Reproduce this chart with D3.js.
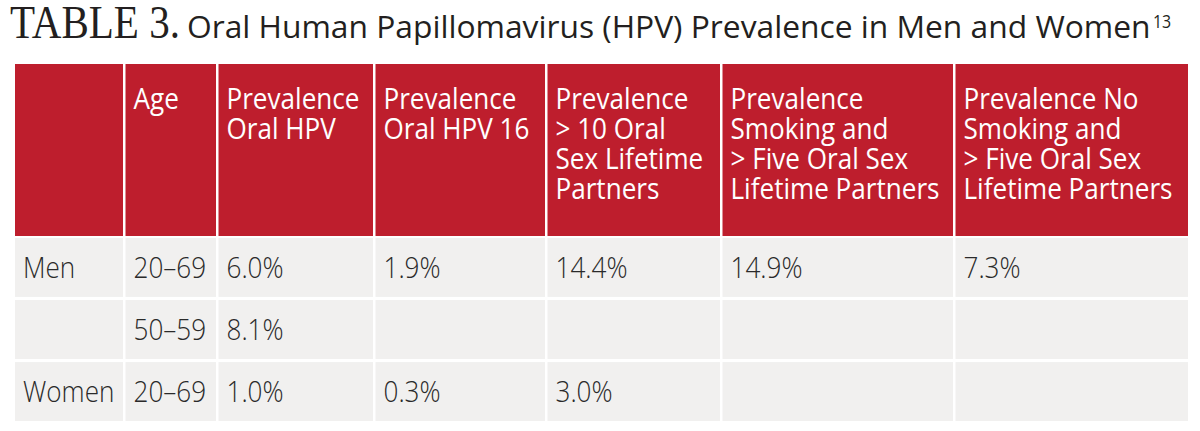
<!DOCTYPE html>
<html>
<head>
<meta charset="utf-8">
<script src="https://cdn.jsdelivr.net/npm/d3@7"></script>
<style>
  body { margin: 0; background: #fff; }
  .chart text { font-family: "Open Sans", "Noto Sans", sans-serif; }
  .chart text.serif { font-family: "Liberation Serif", "DejaVu Serif", serif; }
  .chart .body text { font-weight: 300; }
</style>
</head>
<body>
<svg class="chart"></svg>
<script>
// table content
var headerLines = [
  [],
  ["Age"],
  ["Prevalence", "Oral HPV"],
  ["Prevalence", "Oral HPV 16"],
  ["Prevalence", "> 10 Oral", "Sex Lifetime", "Partners"],
  ["Prevalence", "Smoking and", "> Five Oral Sex", "Lifetime Partners"],
  ["Prevalence No", "Smoking and", "> Five Oral Sex", "Lifetime Partners"]
];
var groups = ["Men", "", "Women"];
var ages = ["20–69", "50–59", "20–69"];
var oralHpv = [6.0, 8.1, 1.0];
var oralHpv16 = [1.9, null, 0.3];
var over10Partners = [14.4, null, 3.0];
var smokingOver5 = [14.9, null, null];
var noSmokingOver5 = [7.3, null, null];

var width = 1200, height = 431;
var red = "#be1e2d", cellBg = "#f1f0ef", ink = "#2a2a2a";

// column left edges and table right edge
var colLeft = [15, 125.5, 218.5, 375.5, 547.5, 722.5, 955.5],
    tableRight = 1188,
    gap = 2.5;
var colRight = colLeft.map((d, i) => (i < colLeft.length - 1 ? colLeft[i + 1] - gap : tableRight));

var headTop = 64, headBottom = 236;

var y = d3.scaleBand()
  .domain(d3.range(groups.length))
  .range([238, 421])
  .paddingInner(0.05);

var fmt = d => (d == null ? "" : d3.format(".1f")(d) + "%");

var rows = groups.map((g, i) => [g, ages[i], fmt(oralHpv[i]), fmt(oralHpv16[i]),
  fmt(over10Partners[i]), fmt(smokingOver5[i]), fmt(noSmokingOver5[i])]);

var svg = d3.select(".chart")
    .attr("width", width)
    .attr("height", height);

// measure a sans word to squeeze the fallback font toward the narrow original
var probe = svg.append("text").attr("font-size", 29.5).text("Prevalence");
var squeeze = 133 / probe.node().getComputedTextLength();
probe.remove();

// title
var title = svg.append("g");
var serif = title.append("text")
    .attr("class", "serif")
    .attr("font-size", 46)
    .attr("fill", "#231f20")
    .text("TABLE 3.");
var serifScale = 170 / serif.node().getComputedTextLength();
serif.attr("transform", `translate(10,38) scale(${serifScale},1)`);

var sub = title.append("text")
    .attr("font-size", 30.5)
    .attr("fill", "#231f20")
    .text("Oral Human Papillomavirus (HPV) Prevalence in Men and Women");
var subScale = 964 / sub.node().getComputedTextLength();
sub.attr("transform", `translate(187,38) scale(${subScale},1)`);

title.append("text")
    .attr("font-size", 18)
    .attr("fill", "#231f20")
    .attr("transform", `translate(1153,28) scale(${squeeze},1)`)
    .text("13");

// header
var head = svg.append("g").attr("class", "head");

head.selectAll("rect")
    .data(headerLines)
  .enter().append("rect")
    .attr("x", (d, i) => colLeft[i])
    .attr("y", headTop)
    .attr("width", (d, i) => colRight[i] - colLeft[i])
    .attr("height", headBottom - headTop)
    .attr("fill", red);

head.selectAll("g")
    .data(headerLines)
  .enter().append("g")
    .each(function(lines, i) {
      d3.select(this).selectAll("text")
          .data(lines)
        .enter().append("text")
          .attr("font-size", 29.5)
          .attr("fill", "#fff")
          .attr("transform", (d, j) => `translate(${colLeft[i] + 8},${108.5 + j * 30}) scale(${squeeze},1)`)
          .text(d => d);
    });

// body
var body = svg.append("g").attr("class", "body");

var row = body.selectAll("g")
    .data(rows)
  .enter().append("g")
    .attr("transform", (d, i) => `translate(0,${y(i)})`);

row.selectAll("rect")
    .data(d => d)
  .enter().append("rect")
    .attr("x", (d, i) => colLeft[i])
    .attr("width", (d, i) => colRight[i] - colLeft[i])
    .attr("height", y.bandwidth())
    .attr("fill", cellBg);

row.selectAll("text")
    .data(d => d)
  .enter().append("text")
    .attr("font-size", 29.5)
    .attr("fill", ink)
    .attr("transform", (d, i) => `translate(${colLeft[i] + 8},${y.bandwidth() / 2 + 10.5}) scale(${squeeze},1)`)
    .text(d => d);
</script>
</body>
</html>
